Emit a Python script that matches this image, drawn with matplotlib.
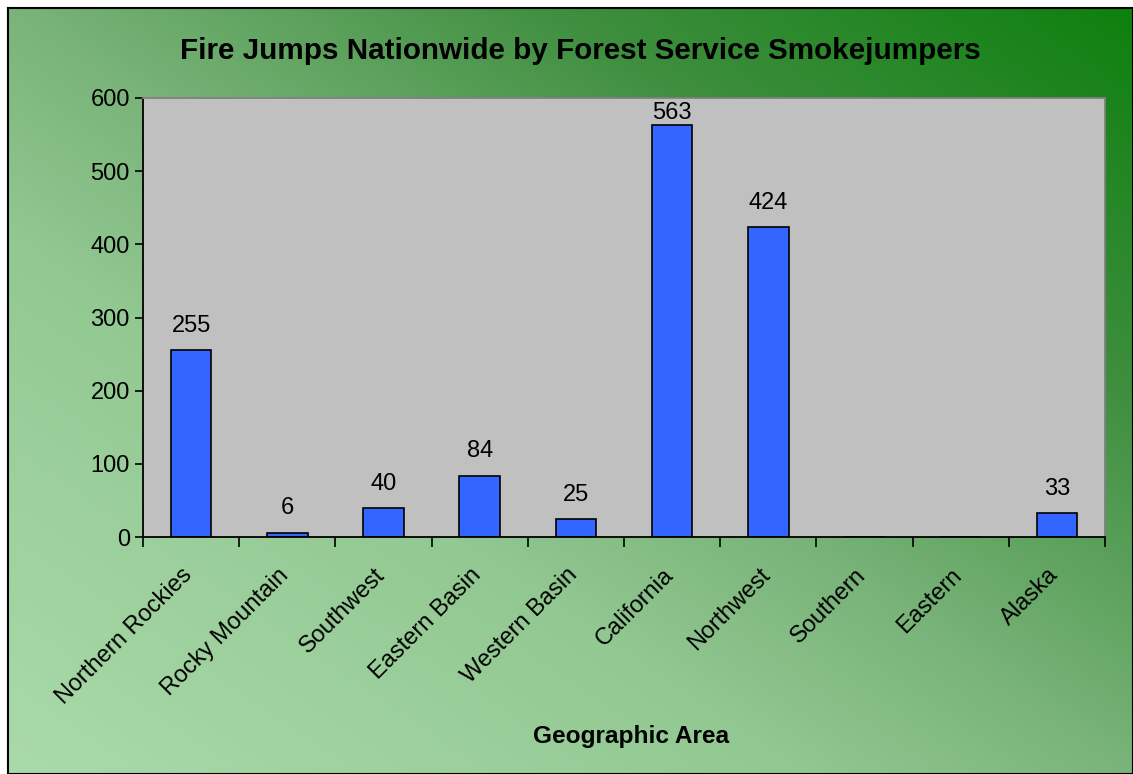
import matplotlib.pyplot as plt
import matplotlib.colors as mcolors
import numpy as np

plt.rcParams['font.family'] = ['Liberation Sans', 'DejaVu Sans']

# data
areas = ['Northern Rockies', 'Rocky Mountain', 'Southwest', 'Eastern Basin',
         'Western Basin', 'California', 'Northwest', 'Southern', 'Eastern', 'Alaska']
jumps = [255, 6, 40, 84, 25, 563, 424, 0, 0, 33]
labels = ['255', '6', '40', '84', '25', '563', '424', '', '', '33']

W, H = 1133, 774
fig = plt.figure(figsize=(W / 100, H / 100), dpi=100)
fig.patch.set_facecolor('white')

# green gradient background, light bottom-left -> dark top-right
bg = fig.add_axes([8 / W, 0, 1 - 8 / W, 1 - 8 / H], zorder=0)
gx, gy = np.meshgrid(np.linspace(0, 1, 300), np.linspace(0, 1, 300))
t = (gx * 1.0 + gy * 1.0) / 2.0
cmap = mcolors.LinearSegmentedColormap.from_list(
    'grn', [(0, '#aadaaa'), (0.35, '#92c892'), (0.5, '#7ab47a'),
            (0.75, '#3e8e3e'), (1, '#0e800e')], N=256)
bg.imshow(t, cmap=cmap, origin='lower', aspect='auto', extent=[0, 1, 0, 1],
          vmin=0, vmax=1)
bg.set_xlim(0, 1)
bg.set_ylim(0, 1)
bg.set_xticks([])
bg.set_yticks([])
for s in bg.spines.values():
    s.set_color('black')
    s.set_linewidth(1.5)

ax = fig.add_axes([143 / W, 1 - 537 / H, (1105 - 143) / W, (537 - 98) / H], zorder=1)
ax.set_facecolor('#c0c0c0')
x = np.arange(len(areas))
bars = ax.bar(x, jumps, width=0.42, color='#3366ff', edgecolor='black', linewidth=1.2)
# value labels, kept inside the plot area like Excel does
for xi, v, lab in zip(x, jumps, labels):
    ax.text(xi, min(v + 18, 564), lab, ha='center', va='bottom', fontsize=17)

ax.set_xlim(-0.5, len(areas) - 0.5)
ax.set_ylim(0, 600)
ax.set_yticks(range(0, 601, 100))
ax.set_xticks(np.arange(-0.5, len(areas), 1.0))
ax.set_xticklabels([])
ax.tick_params(axis='y', labelsize=17, length=6, direction='out', width=1.2)
ax.tick_params(axis='x', length=7, direction='out', width=1.2)
for xi, name in zip(x, areas):
    ax.text(xi - 0.1, -37, name, rotation=45, ha='right', va='top',
            rotation_mode='anchor', fontsize=17)

ax.spines['left'].set_color('black')
ax.spines['bottom'].set_color('black')
ax.spines['top'].set_color('#808080')
ax.spines['right'].set_color('#808080')
for s in ax.spines.values():
    s.set_linewidth(1.3)

fig.text(580 / W, 1 - 51 / H, 'Fire Jumps Nationwide by Forest Service Smokejumpers',
         ha='center', va='center', fontsize=21.3, fontweight='bold')
fig.text(631 / W, 1 - 737 / H, 'Geographic Area', ha='center', va='center',
         fontsize=17.6, fontweight='bold')

fig.savefig('out.png', dpi=100)
